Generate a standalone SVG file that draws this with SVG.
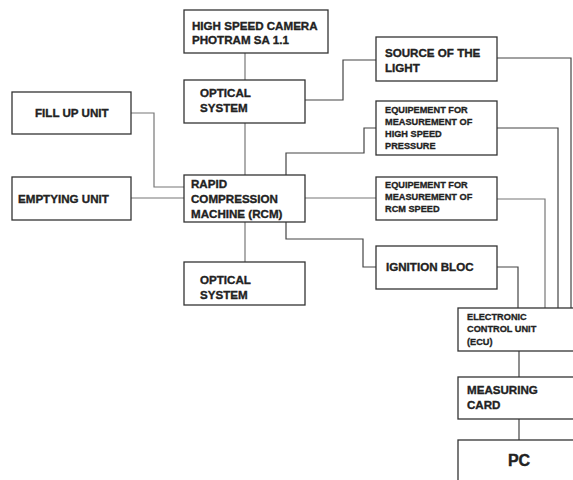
<svg xmlns="http://www.w3.org/2000/svg" width="573" height="480" viewBox="0 0 573 480">
<style>
.b{fill:#fff;stroke:#333;stroke-width:1.3}
.t{font-family:"Liberation Sans",Arial,sans-serif;font-weight:bold;font-size:11.6px;fill:#222;stroke:#222;stroke-width:0.35}
.s{font-size:9.2px;stroke-width:0.3}
.c{fill:none;stroke:#444;stroke-width:1.2}
.g{stroke:#777}
</style>
<rect width="573" height="480" fill="#fff"/>
<g id="connectors">
<path class="c g" d="M245 53V80"/>
<path class="c" d="M305 100H343V60H376"/>
<path class="c" d="M497 58H571V308"/>
<path class="c" d="M286 175V153H364V128H376"/>
<path class="c" d="M497 128H558V308"/>
<path class="c g" d="M131 113H154V187H184"/>
<path class="c g" d="M131 198H184"/>
<path class="c g" d="M245 123V175"/>
<path class="c g" d="M305 198H376"/>
<path class="c g" d="M497 199H545V308"/>
<path class="c" d="M286 222V239H363V267H376"/>
<path class="c" d="M497 267H518V308"/>
<path class="c g" d="M245 222V262"/>
<path class="c" d="M519 351V377"/>
<path class="c" d="M519 419V440"/>
</g>
<g id="camera"><rect class="b" x="184" y="10" width="144" height="43"/><text class="t" x="192" y="30">HIGH SPEED CAMERA</text><text class="t" x="192" y="44">PHOTRAM SA 1.1</text></g>
<g id="optical1"><rect class="b" x="184" y="80" width="121" height="43"/><text class="t" x="200" y="97">OPTICAL</text><text class="t" x="200" y="112">SYSTEM</text></g>
<g id="source"><rect class="b" x="376" y="37" width="121" height="44"/><text class="t" x="385" y="57">SOURCE OF THE</text><text class="t" x="385" y="72">LIGHT</text></g>
<g id="pressure"><rect class="b" x="376" y="101" width="121" height="54"/><text class="t s" x="385" y="113">EQUIPEMENT FOR</text><text class="t s" x="385" y="125">MEASUREMENT OF</text><text class="t s" x="385" y="137">HIGH SPEED</text><text class="t s" x="385" y="149">PRESSURE</text></g>
<g id="fillup"><rect class="b" x="12" y="92" width="119" height="42"/><text class="t" x="35" y="117">FILL UP UNIT</text></g>
<g id="emptying"><rect class="b" x="12" y="177" width="119" height="43"/><text class="t" x="18" y="203">EMPTYING UNIT</text></g>
<g id="rcm"><rect class="b" x="184" y="175" width="121" height="47"/><text class="t" x="191" y="188">RAPID</text><text class="t" x="191" y="203">COMPRESSION</text><text class="t" x="191" y="218">MACHINE (RCM)</text></g>
<g id="speed"><rect class="b" x="376" y="177" width="121" height="43"/><text class="t s" x="385" y="188">EQUIPEMENT FOR</text><text class="t s" x="385" y="200">MEASUREMENT OF</text><text class="t s" x="385" y="212">RCM SPEED</text></g>
<g id="ignition"><rect class="b" x="376" y="246" width="121" height="43"/><text class="t" x="386" y="271">IGNITION BLOC</text></g>
<g id="optical2"><rect class="b" x="184" y="262" width="121" height="43"/><text class="t" x="200" y="284">OPTICAL</text><text class="t" x="200" y="299">SYSTEM</text></g>
<g id="ecu"><rect class="b" x="458" y="308" width="125" height="43"/><text class="t s" x="467" y="320">ELECTRONIC</text><text class="t s" x="467" y="332">CONTROL UNIT</text><text class="t s" x="467" y="345">(ECU)</text></g>
<g id="card"><rect class="b" x="458" y="377" width="125" height="42"/><text class="t" x="467" y="394">MEASURING</text><text class="t" x="467" y="409">CARD</text></g>
<g id="pc"><rect class="b" x="458" y="440" width="125" height="50"/><text class="t" x="519" y="466" text-anchor="middle" style="font-size:16px;stroke-width:0.4">PC</text></g>
</svg>
